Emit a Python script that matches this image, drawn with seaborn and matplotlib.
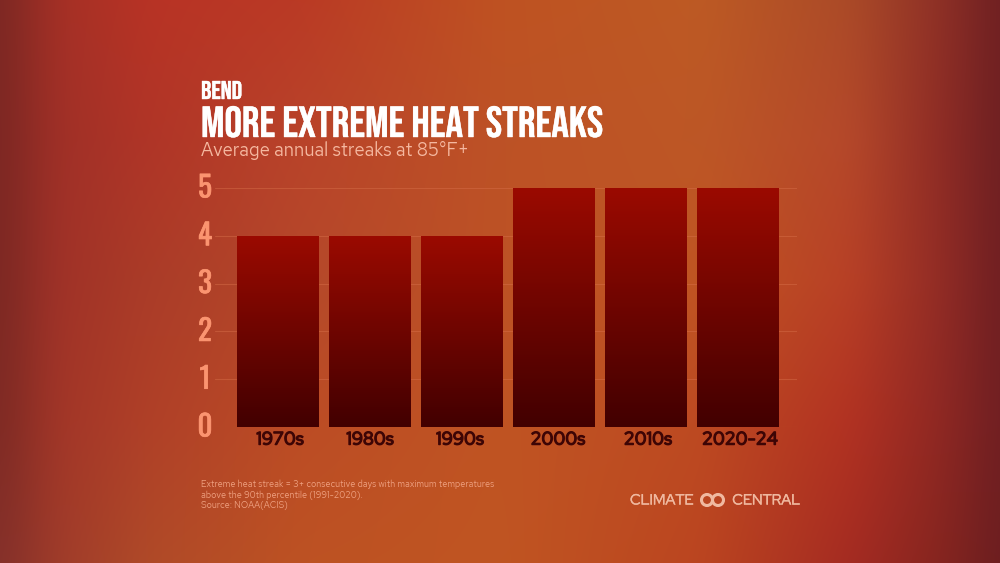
import numpy as np
import pandas as pd
import matplotlib
matplotlib.use("Agg")
import matplotlib.pyplot as plt
import matplotlib.patheffects as pe
from matplotlib.colors import LinearSegmentedColormap, to_rgb
from matplotlib.patches import Circle
from matplotlib.transforms import ScaledTranslation
import seaborn as sns

decades = ["1970s", "1980s", "1990s", "2000s", "2010s", "2020-24"]
streaks = [4, 4, 4, 5, 5, 5]
y_ticks = [0, 1, 2, 3, 4, 5]

W, H = 1000, 563
sns.set_theme(style="white")
BEBAS = ["Bebas Neue", "DejaVu Sans"]
OSWALD = ["Oswald", "Bebas Neue", "DejaVu Sans"]
REDHAT = ["Red Hat Text", "Lato", "DejaVu Sans"]
REDHATD = ["Red Hat Display", "Lato", "DejaVu Sans"]
plt.rcParams["font.family"] = REDHAT

def heavy(width, color):
    return [pe.withStroke(linewidth=width, foreground=color)]

fig = plt.figure(figsize=(W / 100, H / 100), dpi=100)

# background
bg_x = [0, 60, 150, 300, 500, 700, 850, 940, 1000]
bg_y = [0, 140, 280, 420, 563]
bg_colors = [
    ["#7c2823", "#a53026", "#b83325", "#ba3a25", "#bf5222", "#bd5a24", "#ab4a28", "#8e3026", "#6f2022"],
    ["#7c2723", "#a03027", "#b03527", "#b9432a", "#bd5226", "#bd5726", "#b5482a", "#8f2c25", "#6f2022"],
    ["#7c2823", "#a03228", "#ab3c28", "#b5482a", "#bd5225", "#c05522", "#b84026", "#922c25", "#701f22"],
    ["#7e2a24", "#a23628", "#b04028", "#bc4c25", "#c05423", "#bd4a22", "#b23222", "#8f2823", "#701f22"],
    ["#84302a", "#a03c2a", "#b04a28", "#bd5223", "#c05522", "#bb4520", "#a52b22", "#86251f", "#6c1e20"],
]
arr = np.array([[to_rgb(c) for c in row] for row in bg_colors])
xx, yy = np.arange(W) + .5, np.arange(H) + .5
img = np.zeros((H, W, 3))
kernel = np.ones(41) / 41
for ch in range(3):
    rows = np.array([np.interp(xx, bg_x, arr[i, :, ch]) for i in range(len(bg_y))])
    for col in range(W):
        img[:, col, ch] = np.interp(yy, bg_y, rows[:, col])
    for row in range(H):
        padded = np.pad(img[row, :, ch], 20, mode="edge")
        img[row, :, ch] = np.convolve(padded, kernel, mode="valid")
bg = fig.add_axes([0, 0, 1, 1], zorder=0)
bg.imshow(img, extent=(0, W, H, 0), aspect="auto", interpolation="bilinear")
bg.set_xlim(0, W); bg.set_ylim(H, 0); bg.axis("off")

# chart axes: grid runs 215-797 px, y=0 at 427 px, y=5 at 188 px
ax = fig.add_axes([215 / W, 1 - 427 / H, (797 - 215) / W, (427 - 188) / H], zorder=1)
ax.patch.set_alpha(0)
df = pd.DataFrame({"decade": decades, "streaks": streaks})
sns.barplot(data=df, x="decade", y="streaks", width=0.89, ax=ax, color="#800000", saturation=1, zorder=3)
step = 92
xlim = ((215 - 278) / step, (797 - 278) / step)

grad = LinearSegmentedColormap.from_list("g", ["#9b0a00", "#420000"])
g = np.linspace(0, 1, 256)[:, None]
for p in list(ax.patches):
    x0, w, h = p.get_x(), p.get_width(), p.get_height()
    p.set_visible(False)
    im = ax.imshow(g, cmap=grad, extent=(x0, x0 + w, 0, h), origin="upper", aspect="auto", zorder=3)
    im.set_clip_path(plt.Rectangle((x0, 0), w, h, transform=ax.transData))
ax.set_xlim(*xlim)
ax.set_ylim(0, 5)

for s in ax.spines.values():
    s.set_visible(False)
ax.set_yticks(y_ticks)
ax.yaxis.grid(True, color="#d8704a", alpha=0.45, lw=0.8, zorder=1)
ax.xaxis.grid(False)
ax.set_axisbelow(True)
ax.set_xlabel(""); ax.set_ylabel("")
ax.tick_params(axis="both", length=0)
ax.tick_params(axis="x", pad=3)
ax.set_xticks(range(len(decades)), decades)
for lab, dx in zip(ax.get_xticklabels(), [2, 0, -2, 4, 2, 2]):
    lab.set(fontfamily=REDHAT, fontsize=13, color="#3d0505", path_effects=heavy(1.0, "#3d0505"))
    lab.set_transform(lab.get_transform() + ScaledTranslation(dx / 100, 0, fig.dpi_scale_trans))
ax.set_yticklabels([str(v) for v in y_ticks])
for lab in ax.get_yticklabels():
    lab.set_visible(False)
for v in y_ticks:
    ax.annotate(str(v), xy=(0, v), xycoords=ax.get_yaxis_transform(), xytext=(-10, 0),
                textcoords="offset pixels", ha="center", va="center",
                fontfamily=OSWALD, fontsize=21, color="#fb9470",
                path_effects=heavy(0.5, "#fb9470"))

def px(x, y, s, **kw):
    return fig.text(x / W, 1 - y / H, s, **kw)

px(201, 99, "BEND", fontfamily=BEBAS, fontsize=18.5, color="white", va="baseline",
   path_effects=heavy(0.3, "white"))
px(201, 137, "MORE EXTREME HEAT STREAKS", fontfamily=BEBAS, fontsize=31.4, color="white", va="baseline",
   path_effects=heavy(0.3, "white"))
px(201, 156, "Average annual streaks at 85°F+", fontsize=13.35, color="#f5b8a0", va="baseline")

for i, s in enumerate(["Extreme heat streak = 3+ consecutive days with maximum temperatures",
                       "above the 90th percentile (1991-2020).",
                       "Source: NOAA(ACIS)"]):
    px(201, 487 + i * 10.3, s, fontsize=6.55, color="#eea080", va="baseline")

for s, x, ha in [("CLIMATE", 630, "left"), ("CENTRAL", 800, "right")]:
    px(x, 504.5, s, fontfamily=REDHATD, fontsize=10.6, color="#f0b9a0", va="baseline", ha=ha,
       path_effects=heavy(0.3, "#f0b9a0"))
for cx in (707, 718):
    bg.add_patch(Circle((cx, 500), 5.5, fill=False, ec="#f0b9a0", lw=2.2))

fig.savefig("out.png", dpi=100)
